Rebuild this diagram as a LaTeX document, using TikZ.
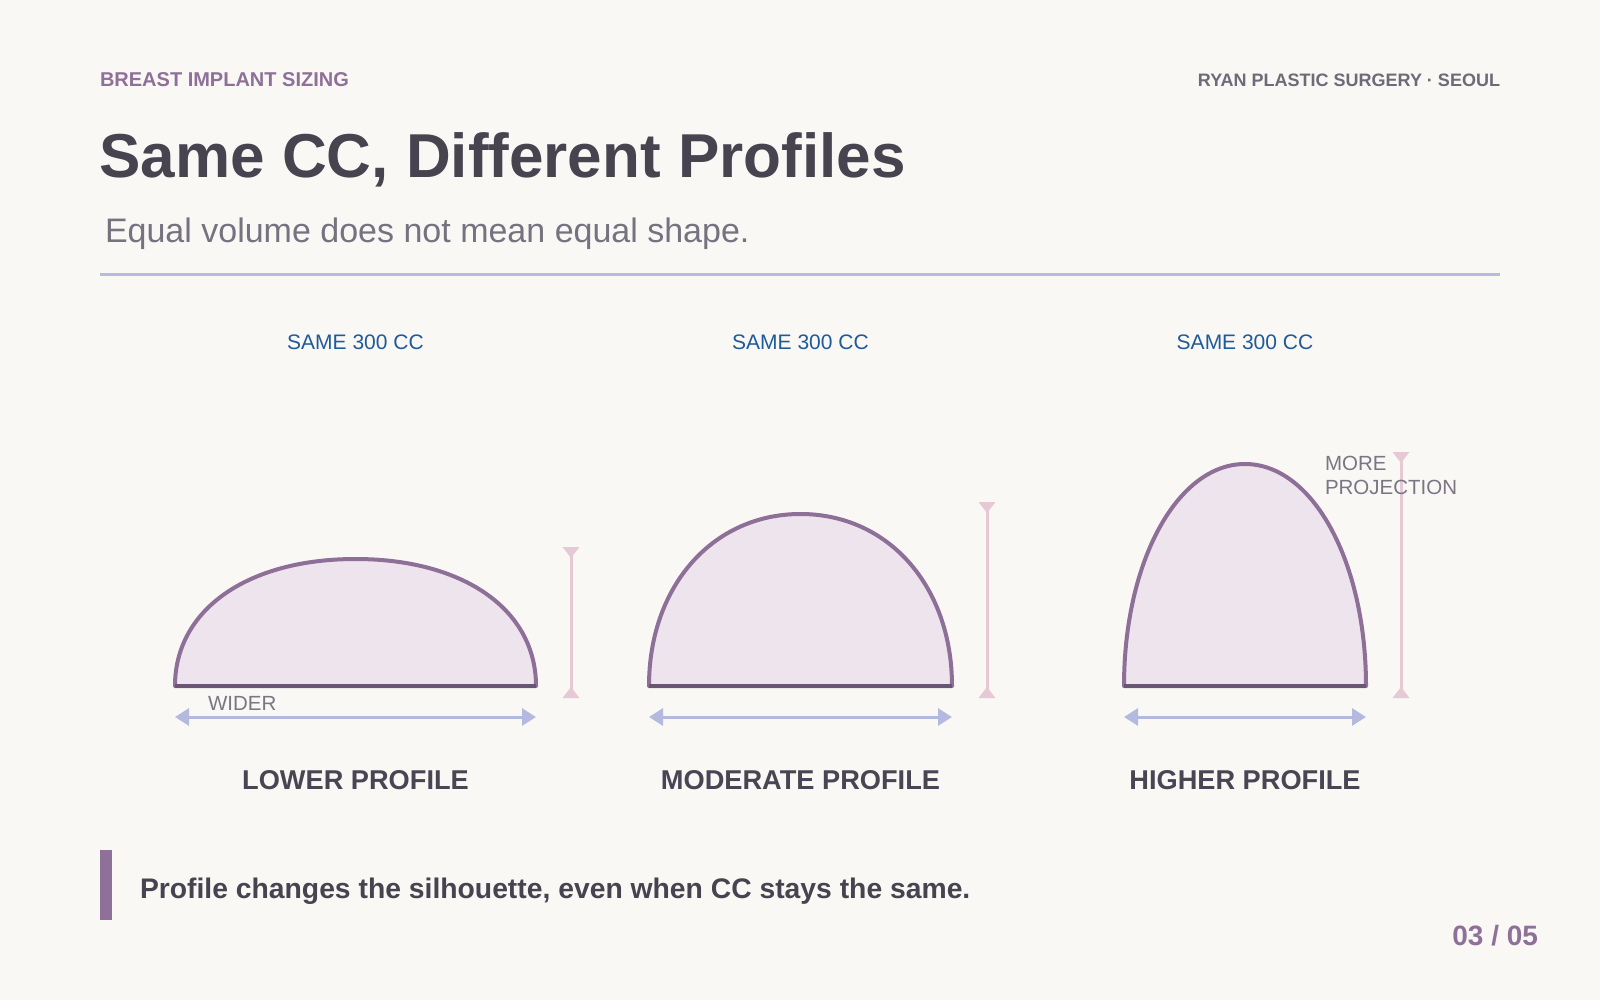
\documentclass[tikz,border=0pt]{standalone}
\usepackage{fontspec}
\setmainfont{Liberation Sans}
\usetikzlibrary{arrows.meta}
\definecolor{bgc}{HTML}{F9F8F5}
\definecolor{accent}{HTML}{8E7098}
\definecolor{muted}{HTML}{6F6A77}
\definecolor{ink}{HTML}{47434F}
\definecolor{subc}{HTML}{77727F}
\definecolor{divc}{HTML}{B8BBDF}
\definecolor{bluec}{HTML}{1F5A9B}
\definecolor{fillc}{HTML}{EEE4EE}
\definecolor{strokec}{HTML}{8D6F97}
\definecolor{basec}{HTML}{6A5672}
\definecolor{widthc}{HTML}{B4B9DF}
\definecolor{pinkc}{HTML}{E6C9D4}
\definecolor{notec}{HTML}{7B7584}
\definecolor{labelc}{HTML}{4A4553}
\newcommand\fsz[1]{\fontsize{#1}{#1}\selectfont}
\tikzset{
  txt/.style={inner sep=0pt, outer sep=0pt},
  implant/.style={fill=fillc, draw=strokec, line width=4pt, line join=round},
  baseline/.style={draw=basec, line width=4pt},
  widthline/.style={draw=widthc, line width=3pt, {Triangle[length=14pt,width=17pt]}-{Triangle[length=14pt,width=17pt]}},
  projline/.style={draw=pinkc, line width=3pt},
  note/.style={txt, text=notec, font=\fsz{20.5}},
}
\begin{document}
\begin{tikzpicture}[x=1pt,y=-1pt]
\fill[bgc] (0,0) rectangle (1600,1000);
\useasboundingbox (0,0) rectangle (1600,1000);

\node[txt, anchor=base west, text=accent, font=\bfseries\fsz{20}] (kicker) at (100,87) {BREAST IMPLANT SIZING};
\node[txt, anchor=base east, text=muted, font=\bfseries\fsz{18}] (brand) at (1500,87) {RYAN PLASTIC SURGERY · SEOUL};
\node[txt, anchor=base west, text=ink, font=\bfseries\fsz{62}] (title) at (99.5,178) {Same CC, Different Profiles};
\node[txt, anchor=base west, text=subc, font=\fsz{34}] (subtitle) at (105,243) {Equal volume does not mean equal shape.};
\coordinate (divl) at (100,275);
\coordinate (divr) at (1500,275);
\draw[divc, line width=3pt] (divl) -- (divr);

\foreach \cx/\hw/\h/\k/\name [count=\i] in {355.5/180.5/127/0.6/LOWER PROFILE, 800.5/151.5/172/0.58/MODERATE PROFILE, 1245/121/222/0.56/HIGHER PROFILE} {
  % implant silhouette
  \path[implant] ({\cx-\hw},686) .. controls ({\cx-\hw},{686-\k*\h}) and ({\cx-\k*\hw},{686-\h}) .. ({\cx},{686-\h})
     .. controls ({\cx+\k*\hw},{686-\h}) and ({\cx+\hw},{686-\k*\h}) .. ({\cx+\hw},686) -- cycle;
  \coordinate (bl\i) at ({\cx-\hw},686);
  \coordinate (br\i) at ({\cx+\hw},686);
  \draw[baseline] (bl\i) -- (br\i);
  % width arrow
  \coordinate (wl\i) at ({\cx-\hw},717);
  \coordinate (wr\i) at ({\cx+\hw},717);
  \draw[widthline] (wl\i) -- (wr\i);
  % projection indicator
  \coordinate (pt\i) at ({\cx+\hw+35},{686-\h-12});
  \coordinate (pb\i) at ({\cx+\hw+35},698);
  \draw[projline] (pt\i) -- (pb\i);
  \fill[pinkc] ({\cx+\hw+35-8.5},{686-\h-12}) -- ({\cx+\hw+35+8.5},{686-\h-12}) -- ({\cx+\hw+35},{686-\h-1}) -- cycle;
  \fill[pinkc] ({\cx+\hw+35-8.5},698) -- ({\cx+\hw+35+8.5},698) -- ({\cx+\hw+35},687) -- cycle;
  % labels
  \node[txt, anchor=base, text=bluec, font=\fsz{21}] (same\i) at ({\cx},349) {SAME 300 CC};
  \node[txt, anchor=base, text=labelc, font=\bfseries\fsz{27.2}] (label\i) at ({\cx},789) {\name};
}

\node[note, anchor=base west] (wider) at (208,710) {WIDER};
\node[note, anchor=base west] (more) at (1325,470) {MORE};
\node[note, anchor=base west] (proj) at (1325,494) {PROJECTION};

\fill[accent] (100,850) rectangle (112,920);
\node[txt, anchor=base west, text=ink, font=\bfseries\fsz{28.3}] (takeaway) at (140,898) {Profile changes the silhouette, even when CC stays the same.};
\node[txt, anchor=base east, text=accent, font=\bfseries\fsz{28}] (page) at (1538,945) {03 / 05};
\end{tikzpicture}
\end{document}
